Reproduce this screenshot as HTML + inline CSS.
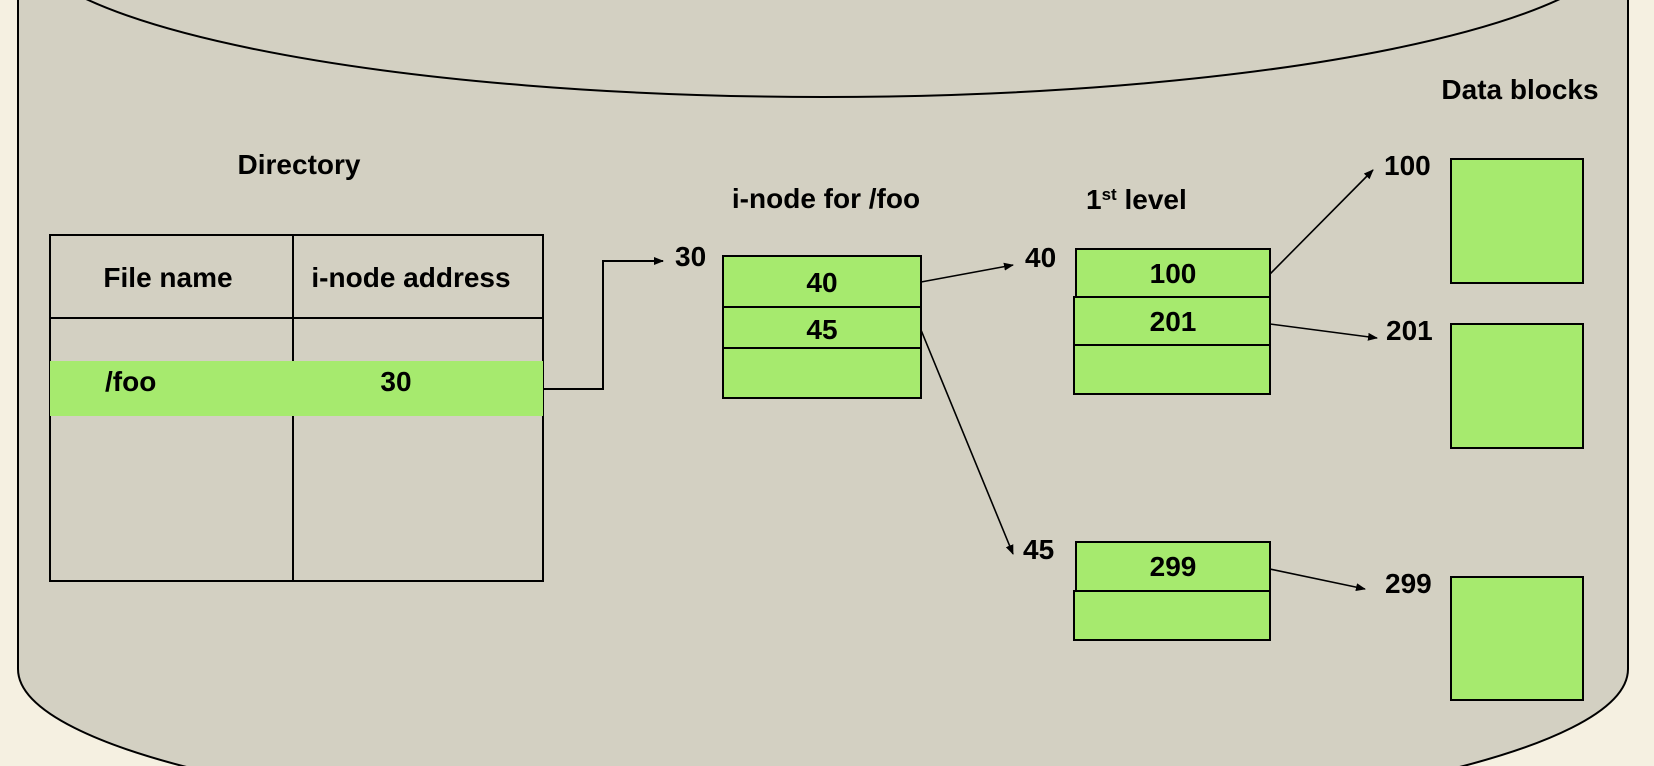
<!DOCTYPE html>
<html><head><meta charset="utf-8"><style>
html,body{margin:0;padding:0;background:#f5f0e1;width:1654px;height:766px;overflow:hidden;}
svg{display:block;}
text{font-family:"Liberation Sans",Arial,sans-serif;font-weight:bold;fill:#000;}
</style></head><body>
<svg width="1654" height="766" viewBox="0 0 1654 766" xmlns="http://www.w3.org/2000/svg">
<defs><marker id="a" markerWidth="10" markerHeight="8" refX="9" refY="4" orient="auto" markerUnits="userSpaceOnUse"><path d="M0,0 L10,4 L0,8 Z" fill="#000"/></marker></defs>
<rect width="1654" height="766" fill="#f5f0e1"/>
<path d="M18,-10 L18,669 A805,160 0 0 0 1628,669 L1628,-10 Z" fill="#d3d0c2" stroke="#000" stroke-width="2"/>
<ellipse cx="823" cy="-67" rx="805" ry="164" fill="#d3d0c2" stroke="#000" stroke-width="2"/>
<text x="299" y="174" font-size="28" text-anchor="middle">Directory</text>
<rect x="50" y="235" width="493" height="346" fill="none" stroke="#000" stroke-width="2"/>
<line x1="50" y1="318" x2="543" y2="318" stroke="#000" stroke-width="2"/>
<line x1="293" y1="235" x2="293" y2="581" stroke="#000" stroke-width="2"/>
<rect x="50" y="361" width="493" height="55" fill="#a6ea6e"/>
<text x="168" y="287" font-size="28" text-anchor="middle">File name</text>
<text x="411" y="287" font-size="28" text-anchor="middle">i-node address</text>
<text x="105" y="391" font-size="28">/foo</text>
<text x="396" y="391" font-size="28" text-anchor="middle">30</text>
<polyline points="543,389 603,389 603,261 663,261" fill="none" stroke="#000" stroke-width="2" marker-end="url(#a)"/>
<text x="675" y="266" font-size="28">30</text>
<text x="826" y="208" font-size="28" text-anchor="middle">i-node for /foo</text>
<g fill="#a6ea6e" stroke="#000" stroke-width="2">
<rect x="723" y="256" width="198" height="51"/>
<rect x="723" y="307" width="198" height="41"/>
<rect x="723" y="348" width="198" height="50"/>
</g>
<text x="822" y="292" font-size="28" text-anchor="middle">40</text>
<text x="822" y="339" font-size="28" text-anchor="middle">45</text>
<line x1="921" y1="282" x2="1013" y2="265" stroke="#000" stroke-width="1.6" marker-end="url(#a)"/>
<line x1="921" y1="330" x2="1013" y2="554" stroke="#000" stroke-width="1.6" marker-end="url(#a)"/>
<text x="1025" y="267" font-size="28">40</text>
<text x="1023" y="559" font-size="28">45</text>
<text x="1086" y="209" font-size="28">1<tspan font-size="17" dy="-9">st</tspan><tspan dy="9"> level</tspan></text>
<g fill="#a6ea6e" stroke="#000" stroke-width="2">
<rect x="1076" y="249" width="194" height="48"/>
<rect x="1074" y="297" width="196" height="48"/>
<rect x="1074" y="345" width="196" height="49"/>
<rect x="1076" y="542" width="194" height="49"/>
<rect x="1074" y="591" width="196" height="49"/>
</g>
<text x="1173" y="283" font-size="28" text-anchor="middle">100</text>
<text x="1173" y="331" font-size="28" text-anchor="middle">201</text>
<text x="1173" y="576" font-size="28" text-anchor="middle">299</text>
<line x1="1270" y1="274" x2="1373" y2="170" stroke="#000" stroke-width="1.6" marker-end="url(#a)"/>
<line x1="1270" y1="324" x2="1377" y2="338" stroke="#000" stroke-width="1.6" marker-end="url(#a)"/>
<line x1="1270" y1="569" x2="1365" y2="589" stroke="#000" stroke-width="1.6" marker-end="url(#a)"/>
<text x="1520" y="99" font-size="28" text-anchor="middle">Data blocks</text>
<text x="1384" y="175" font-size="28">100</text>
<text x="1386" y="340" font-size="28">201</text>
<text x="1385" y="593" font-size="28">299</text>
<g fill="#a6ea6e" stroke="#000" stroke-width="2">
<rect x="1451" y="159" width="132" height="124"/>
<rect x="1451" y="324" width="132" height="124"/>
<rect x="1451" y="577" width="132" height="123"/>
</g>
</svg>
</body></html>
